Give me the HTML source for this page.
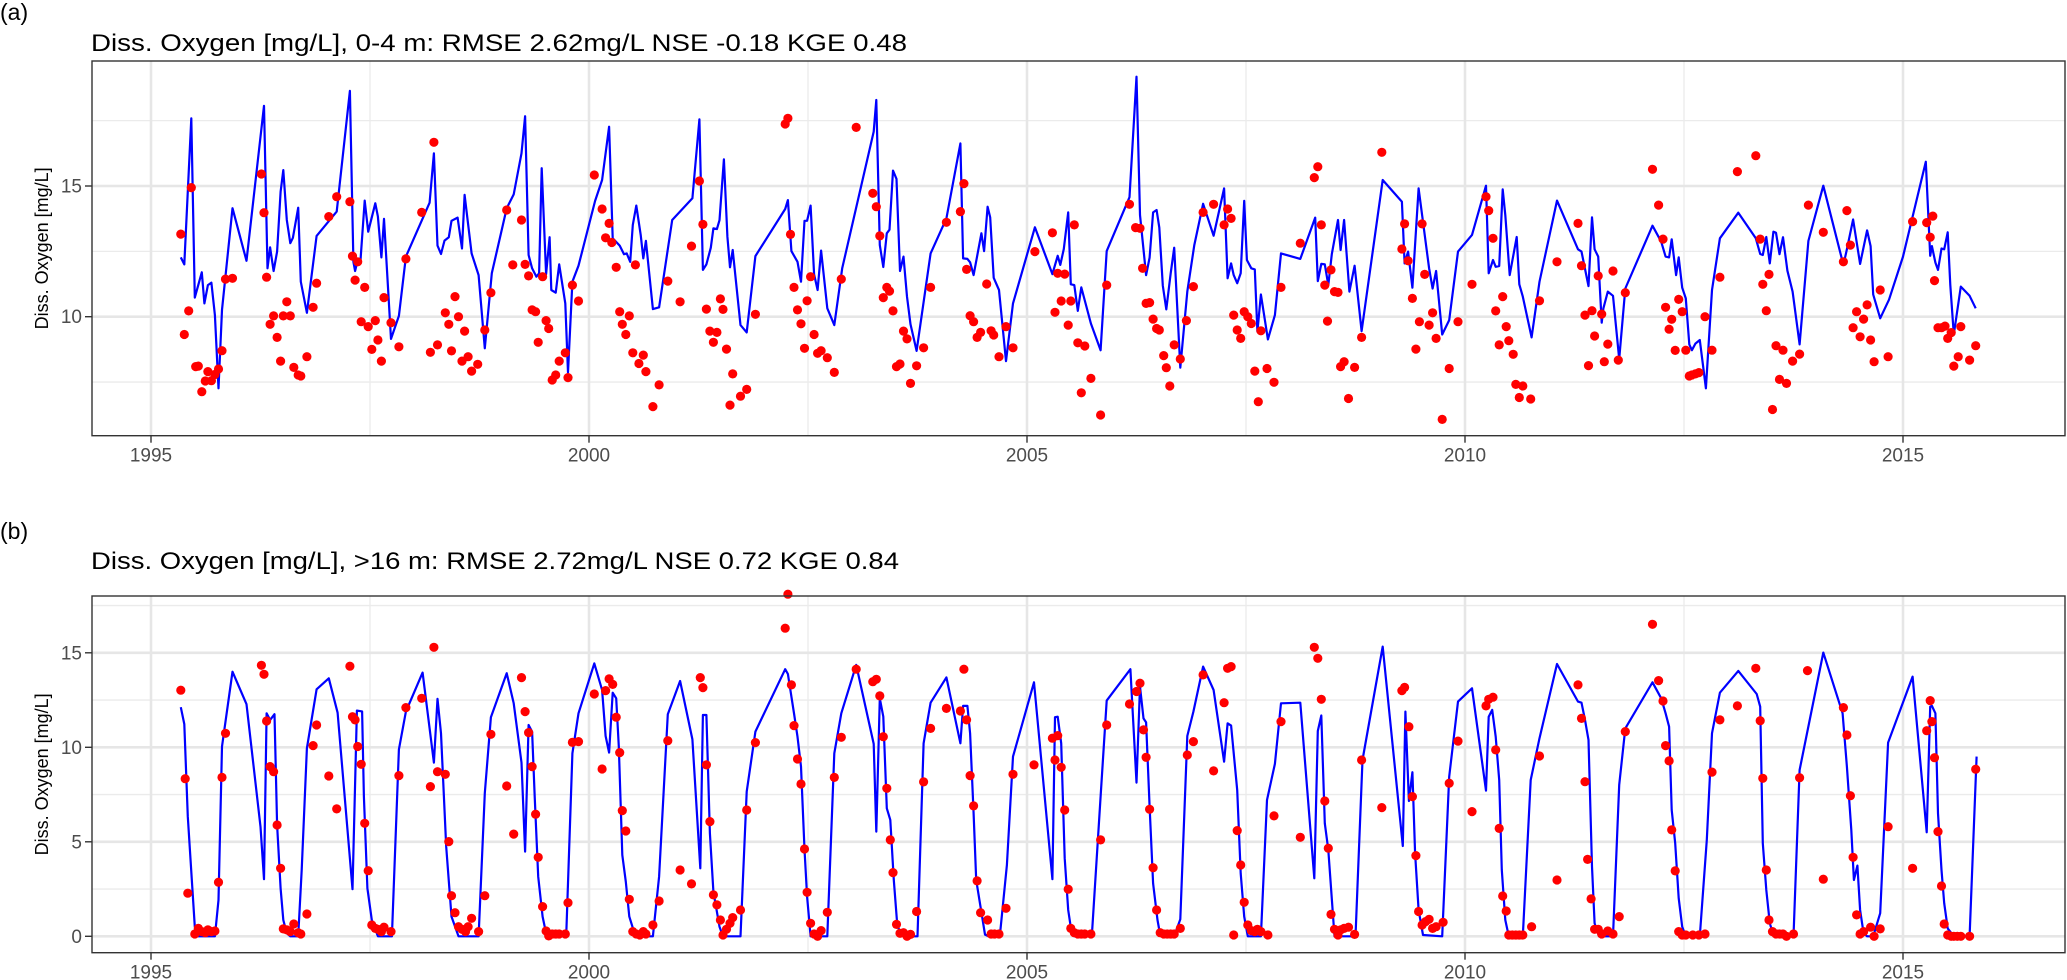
<!DOCTYPE html>
<html><head><meta charset="utf-8"><style>
html,body{margin:0;padding:0;background:#fff;}
svg{display:block;font-family:"Liberation Sans",Arial,sans-serif;}
</style></head><body>
<svg id="chart" width="2067" height="980" viewBox="0 0 2067 980" xmlns="http://www.w3.org/2000/svg">
<rect x="0" y="0" width="2067" height="980" fill="#fff"/>
<text x="0" y="20" font-size="23" fill="#000">(a)</text>
<text x="91" y="51" font-size="24" fill="#000" textLength="816" lengthAdjust="spacingAndGlyphs">Diss. Oxygen [mg/L], 0-4 m: RMSE 2.62mg/L NSE -0.18 KGE 0.48</text>
<text x="0" y="539" font-size="23" fill="#000">(b)</text>
<text x="91" y="569" font-size="24" fill="#000" textLength="808" lengthAdjust="spacingAndGlyphs">Diss. Oxygen [mg/L], &gt;16 m: RMSE 2.72mg/L NSE 0.72 KGE 0.84</text>
<g id="panelA"></g>
<g id="panelB"></g>
</svg>
<script>
// ---------- Panel (a) data: surface 0-4 m ----------
const aLineYr=[1995.34,1995.38,1995.46,1995.50,1995.58,1995.61,1995.65,1995.69,1995.73,1995.77,1995.81,1995.93,1996.09,1996.29,1996.33,1996.36,1996.40,1996.44,1996.48,1996.51,1996.55,1996.59,1996.62,1996.68,1996.71,1996.78,1996.89,1997.12,1997.27,1997.31,1997.33,1997.36,1997.39,1997.44,1997.48,1997.56,1997.59,1997.63,1997.66,1997.74,1997.83,1997.91,1998.18,1998.23,1998.27,1998.31,1998.35,1998.40,1998.43,1998.50,1998.55,1998.58,1998.66,1998.74,1998.81,1998.89,1999.06,1999.14,1999.23,1999.27,1999.31,1999.35,1999.40,1999.43,1999.46,1999.51,1999.55,1999.57,1999.62,1999.66,1999.73,1999.76,1999.81,1999.88,2000.07,2000.15,2000.23,2000.27,2000.35,2000.40,2000.43,2000.47,2000.50,2000.54,2000.59,2000.62,2000.65,2000.73,2000.80,2000.95,2001.18,2001.26,2001.30,2001.34,2001.39,2001.42,2001.46,2001.49,2001.54,2001.58,2001.61,2001.64,2001.73,2001.80,2001.90,
2002.24,2002.27,2002.31,2002.38,2002.42,2002.46,2002.49,2002.53,2002.57,2002.61,2002.65,2002.72,2002.80,2002.89,2003.25,2003.28,2003.32,2003.36,2003.40,2003.43,2003.47,2003.51,2003.55,2003.59,2003.63,2003.67,2003.74,2003.90,2004.08,2004.24,2004.27,2004.32,2004.35,2004.39,2004.48,2004.51,2004.55,2004.58,2004.62,2004.68,2004.76,2004.84,2005.09,2005.29,2005.35,2005.38,2005.42,2005.47,2005.50,2005.54,2005.58,2005.62,2005.73,2005.84,2005.91,2006.17,2006.25,2006.29,2006.36,2006.40,2006.44,2006.48,2006.51,2006.55,2006.59,2006.64,2006.68,2006.75,2006.83,2006.91,2007.01,2007.13,2007.25,2007.29,2007.33,2007.36,2007.40,2007.44,2007.48,2007.51,2007.56,2007.60,2007.63,2007.67,2007.75,2007.83,2007.90,2008.12,2008.29,2008.32,2008.36,2008.40,2008.44,2008.48,2008.55,2008.58,2008.62,2008.68,2008.74,2008.82,2009.06,2009.28,2009.31,2009.35,2009.40,2009.47,2009.51,2009.59,2009.63,2009.67,
2009.74,2009.82,2009.92,2010.08,2010.24,2010.27,2010.32,2010.35,2010.39,2010.43,2010.46,2010.51,2010.59,2010.62,2010.66,2010.76,2010.85,2011.05,2011.29,2011.33,2011.41,2011.45,2011.48,2011.52,2011.56,2011.58,2011.63,2011.69,2011.76,2011.83,2012.14,2012.24,2012.29,2012.33,2012.36,2012.41,2012.44,2012.48,2012.52,2012.56,2012.59,2012.63,2012.68,2012.75,2012.82,2012.91,2013.12,2013.32,2013.37,2013.40,2013.44,2013.48,2013.52,2013.55,2013.59,2013.63,2013.68,2013.74,2013.82,2013.92,2014.09,2014.32,2014.36,2014.43,2014.51,2014.59,2014.63,2014.66,2014.74,2014.84,2015.00,2015.26,2015.31,2015.33,2015.37,2015.40,2015.44,2015.47,2015.51,2015.54,2015.58,2015.63,2015.66,2015.76,2015.83];
const aLineVal=[12.27,12.0,17.59,10.73,11.7,10.51,11.21,11.3,10.06,7.26,10.26,14.15,12.14,18.07,11.85,12.65,11.75,12.49,14.78,15.61,13.70,12.81,13.02,14.17,11.34,10.15,13.09,14.02,18.64,12.1,11.75,12.17,12.1,14.44,13.25,14.34,13.83,12.27,13.74,9.15,10.03,12.3,14.36,16.25,12.72,12.4,12.91,13.04,13.67,13.79,12.61,14.66,12.42,11.59,8.79,11.66,14.15,14.68,16.25,17.67,12.36,11.85,11.53,11.66,15.68,11.63,13.04,11.02,10.92,12.0,10.51,7.87,11.34,11.95,14.43,15.23,17.27,13.0,12.72,12.39,12.42,12.1,13.51,14.25,13.13,12.23,12.9,10.29,10.36,13.70,14.53,17.55,11.79,12.0,12.64,13.38,13.35,13.69,16.02,13.06,11.89,12.55,9.68,9.4,12.32,
14.12,14.46,12.51,12.1,11.34,13.67,13.67,14.25,11.62,11.02,12.53,10.32,9.68,11.85,17.08,18.29,12.74,11.9,13.19,13.33,15.59,15.27,11.75,12.3,10.77,9.71,8.69,12.42,13.76,16.63,12.23,12.21,12.08,11.59,13.19,12.51,14.21,13.8,11.49,11.02,8.3,10.51,13.42,11.63,12.33,11.98,12.59,13.99,11.24,11.21,10.22,11.12,9.74,8.72,12.51,14.57,19.18,13.89,11.59,12.26,13.99,14.08,13.41,11.19,10.28,11.66,12.64,8.05,10.96,12.74,14.32,13.1,14.91,11.47,12.04,11.59,11.28,11.66,14.43,12.17,11.85,11.81,9.43,10.85,9.13,10.06,12.42,12.21,13.79,11.36,12.02,12.0,11.21,12.39,13.7,12.55,13.7,10.96,11.95,9.45,15.23,14.4,12.04,12.49,11.11,14.91,13.89,11.85,11.08,11.75,
9.32,9.87,12.49,13.13,15.01,11.66,12.17,11.91,11.94,14.87,13.89,11.59,13.05,11.24,10.77,9.21,11.34,14.44,12.58,12.49,11.17,13.8,12.58,12.3,9.77,10.32,10.96,10.8,8.38,11.08,13.48,12.87,12.3,12.27,12.96,11.59,12.27,11.11,10.7,8.94,8.72,8.97,9.11,7.26,11.02,13.0,13.98,13.0,12.4,12.36,13.05,12.04,13.25,13.21,12.39,13.04,11.76,10.96,8.94,12.9,15.01,11.98,12.58,13.72,12.02,13.3,12.7,10.85,9.94,10.65,12.3,15.93,12.33,12.7,12.07,11.79,12.61,12.58,13.23,11.21,9.32,10.47,11.15,10.8,10.32];
const aObsYr=[1995.34,1995.38,1995.43,1995.46,1995.51,1995.54,1995.58,1995.62,1995.65,1995.69,1995.73,1995.77,1995.81,1995.85,1995.93,1996.26,1996.29,1996.32,1996.36,1996.40,1996.44,1996.48,1996.51,1996.55,1996.59,1996.63,1996.68,1996.71,1996.78,1996.85,1996.89,1997.03,1997.12,1997.27,1997.30,1997.33,1997.36,1997.40,1997.44,1997.48,1997.52,1997.56,1997.59,1997.63,1997.66,1997.74,1997.83,1997.91,1998.09,1998.19,1998.23,1998.27,1998.36,1998.40,1998.43,1998.47,1998.51,1998.55,1998.58,1998.62,1998.66,1998.73,1998.81,1998.88,1999.06,1999.13,1999.23,1999.27,1999.31,1999.35,1999.39,1999.42,1999.47,1999.51,1999.54,1999.58,1999.62,1999.66,1999.73,1999.76,1999.81,1999.88,2000.06,2000.15,2000.19,2000.23,2000.26,2000.31,2000.35,2000.38,2000.42,2000.46,2000.50,2000.53,2000.57,2000.62,2000.65,2000.73,2000.80,2000.90,2001.04,2001.17,2001.26,2001.30,2001.34,2001.38,2001.42,2001.46,2001.50,2001.53,2001.57,2001.61,2001.64,2001.73,2001.80,2001.90,
2002.24,2002.27,2002.30,2002.34,2002.38,2002.42,2002.46,2002.49,2002.53,2002.57,2002.61,2002.65,2002.72,2002.80,2002.88,2003.05,2003.24,2003.28,2003.32,2003.36,2003.40,2003.43,2003.47,2003.51,2003.55,2003.59,2003.63,2003.67,2003.74,2003.82,2003.90,2004.08,2004.24,2004.28,2004.31,2004.35,2004.39,2004.43,2004.47,2004.54,2004.59,2004.62,2004.68,2004.76,2004.84,2005.09,2005.29,2005.32,2005.35,2005.39,2005.43,2005.47,2005.50,2005.54,2005.58,2005.66,2005.62,2005.73,2005.84,2005.91,2006.17,2006.24,2006.29,2006.32,2006.36,2006.40,2006.44,2006.48,2006.51,2006.56,2006.59,2006.63,2006.68,2006.75,2006.82,2006.90,2007.01,2007.13,2007.25,2007.29,2007.33,2007.36,2007.40,2007.44,2007.48,2007.52,2007.56,2007.60,2007.64,2007.67,2007.74,2007.82,2007.90,2008.12,2008.28,2008.32,2008.36,2008.40,2008.43,2008.47,2008.51,2008.55,2008.58,2008.62,2008.67,2008.74,2008.82,2009.05,2009.28,2009.31,2009.35,2009.40,2009.44,2009.48,2009.51,2009.54,2009.59,2009.63,2009.67,
2009.74,2009.82,2009.92,2010.08,2010.24,2010.27,2010.32,2010.35,2010.39,2010.43,2010.47,2010.50,2010.55,2010.58,2010.62,2010.66,2010.75,2010.85,2011.05,2011.29,2011.33,2011.37,2011.41,2011.45,2011.48,2011.52,2011.56,2011.59,2011.63,2011.69,2011.75,2011.83,2012.14,2012.21,2012.26,2012.29,2012.33,2012.36,2012.40,2012.44,2012.48,2012.52,2012.56,2012.59,2012.63,2012.67,2012.74,2012.82,2012.91,2013.11,2013.32,2013.37,2013.40,2013.44,2013.47,2013.51,2013.55,2013.59,2013.63,2013.67,2013.74,2013.82,2013.92,2014.09,2014.32,2014.36,2014.40,2014.43,2014.47,2014.51,2014.55,2014.59,2014.63,2014.67,2014.74,2014.83,2015.11,2015.27,2015.31,2015.34,2015.36,2015.40,2015.44,2015.48,2015.51,2015.55,2015.58,2015.63,2015.66,2015.76,2015.83];
const aObsVal=[13.16,9.32,10.22,14.94,8.09,8.11,7.13,7.54,7.9,7.55,7.79,8.0,8.7,11.44,11.47,15.46,13.98,11.51,9.71,10.03,9.21,8.3,10.03,10.57,10.03,8.06,7.77,7.73,8.47,10.36,11.28,13.83,14.59,14.4,12.32,11.4,12.1,9.81,11.12,9.62,8.75,9.85,9.11,8.3,10.73,9.77,8.85,12.21,13.99,8.64,16.67,8.92,10.15,9.71,8.69,10.77,10.0,8.3,9.45,8.47,7.92,8.18,9.49,10.92,14.08,11.98,13.7,12.0,11.56,10.26,10.19,9.02,11.53,9.85,9.55,7.58,7.77,8.3,8.62,7.67,11.21,10.6,15.42,14.12,13.02,13.57,12.84,11.89,10.19,9.71,9.32,10.03,8.62,11.98,8.21,8.53,7.9,6.56,7.39,11.36,10.57,12.7,15.19,13.53,10.29,9.45,9.02,9.4,10.68,10.28,8.76,6.62,7.81,6.96,7.22,10.09,
17.37,17.59,13.15,11.12,10.26,9.73,8.79,10.61,11.53,9.32,8.6,8.7,8.43,7.87,11.44,17.24,14.72,14.21,13.09,10.73,11.12,10.98,10.22,8.09,8.19,9.45,9.15,7.45,8.12,8.81,11.12,13.61,14.02,15.09,11.81,10.04,9.81,9.21,9.4,11.25,9.46,9.3,8.47,9.62,8.81,12.49,13.21,10.17,11.66,10.6,11.63,9.68,10.6,13.51,9.0,8.88,7.09,7.64,6.24,11.21,14.3,13.41,13.38,11.85,10.51,10.54,9.91,9.55,9.49,8.51,8.05,7.35,8.92,8.38,9.85,11.15,13.99,14.3,13.51,14.12,13.76,10.06,9.49,9.17,10.19,10.0,9.74,7.92,6.75,9.46,8.02,7.49,11.12,12.81,15.32,15.74,13.51,11.21,9.83,11.79,10.96,10.93,8.09,8.28,6.87,8.06,9.21,16.29,12.59,13.55,12.14,10.7,8.76,9.81,13.55,11.62,9.68,10.15,9.17,
6.07,8.02,9.81,11.24,14.59,14.06,13.0,10.22,8.92,10.77,9.62,9.08,8.56,7.41,6.91,7.35,6.85,10.61,12.1,13.57,11.95,10.06,8.13,10.23,9.26,11.56,10.1,8.28,8.95,11.75,8.34,10.92,15.64,14.27,12.97,10.36,9.52,9.9,8.71,10.66,10.19,8.72,7.73,7.77,7.81,7.86,10.0,8.72,11.51,15.55,16.16,12.97,11.24,10.23,11.62,6.45,8.89,7.6,8.72,7.45,8.3,8.57,14.27,13.23,12.1,14.06,12.74,9.58,10.19,9.23,9.91,10.45,9.11,8.28,11.02,8.47,13.64,13.6,13.04,13.85,11.38,9.58,9.58,9.64,9.17,9.39,8.11,8.47,9.62,8.34,8.89];

// ---------- Panel (b) data: bottom >16 m ----------
const bLineYr=[1995.34,1995.38,1995.42,1995.50,1995.54,1995.73,1995.77,1995.81,1995.93,1996.09,1996.25,1996.29,1996.32,1996.36,1996.41,1996.44,1996.48,1996.51,1996.55,1996.59,1996.68,1996.72,1996.78,1996.89,1997.03,1997.13,1997.30,1997.35,1997.41,1997.43,1997.47,1997.52,1997.59,1997.75,1997.83,1997.91,1998.10,1998.23,1998.27,1998.31,1998.37,1998.43,1998.51,1998.74,1998.81,1998.88,1999.06,1999.14,1999.23,1999.27,1999.31,1999.35,1999.38,1999.42,1999.47,1999.51,1999.55,1999.74,1999.81,1999.88,2000.06,2000.15,2000.19,2000.23,2000.27,2000.31,2000.34,2000.38,2000.42,2000.46,2000.53,2000.73,2000.80,2000.90,2001.04,2001.18,2001.27,2001.30,2001.34,2001.38,2001.42,2001.49,2001.53,2001.73,2001.80,2001.90,
2002.24,2002.27,2002.34,2002.38,2002.42,2002.46,2002.49,2002.53,2002.72,2002.80,2002.88,2003.05,2003.25,2003.28,2003.32,2003.36,2003.40,2003.44,2003.48,2003.52,2003.59,2003.75,2003.82,2003.90,2004.08,2004.24,2004.27,2004.32,2004.35,2004.39,2004.42,2004.52,2004.56,2004.69,2004.77,2004.84,2005.08,2005.29,2005.32,2005.35,2005.39,2005.43,2005.47,2005.51,2005.54,2005.74,2005.84,2005.91,2006.18,2006.25,2006.29,2006.33,2006.36,2006.40,2006.44,2006.49,2006.52,2006.56,2006.68,2006.75,2006.83,2006.90,2007.01,2007.13,2007.25,2007.29,2007.33,2007.40,2007.44,2007.48,2007.52,2007.67,2007.74,2007.83,2007.90,2008.12,2008.28,2008.32,2008.36,2008.40,2008.44,2008.51,2008.75,2008.83,2009.06,2009.29,2009.32,2009.36,2009.40,2009.43,2009.47,2009.52,
2009.74,2009.82,2009.92,2010.08,2010.24,2010.27,2010.31,2010.35,2010.39,2010.42,2010.46,2010.50,2010.66,2010.75,2010.85,2011.05,2011.29,2011.33,2011.37,2011.41,2011.45,2011.48,2011.53,2011.69,2011.76,2011.83,2012.14,2012.24,2012.29,2012.33,2012.36,2012.40,2012.44,2012.48,2012.52,2012.68,2012.76,2012.82,2012.91,2013.12,2013.33,2013.37,2013.40,2013.44,2013.48,2013.52,2013.55,2013.75,2013.82,2014.09,2014.31,2014.36,2014.41,2014.44,2014.48,2014.51,2014.55,2014.59,2014.66,2014.74,2014.83,2015.11,2015.27,2015.31,2015.33,2015.37,2015.40,2015.44,2015.47,2015.51,2015.58,2015.76,2015.84];
const bLineVal=[12.12,11.23,6.33,0.51,0,0,1.92,10.04,14.0,12.28,5.8,3.02,11.8,11.45,11.75,5.89,2.54,0.86,0.16,0,0,3.51,9.95,13.07,13.65,11.83,2.49,11.94,11.9,7.39,2.54,0.86,0,0,9.89,11.89,13.95,9.19,12.56,10.74,4.74,1.04,0,0,7.57,11.59,13.92,12.33,9.19,4.48,11.18,10.83,7.39,3.16,1.04,0.16,0,0,9.68,11.8,14.44,13.03,10.6,9.72,12.89,12.59,10.04,4.3,2.89,1.04,0,0,3.16,11.75,13.51,10.42,3.6,11.71,11.71,5.45,2.36,0.51,0,0,7.65,10.83,
14.13,13.88,11.8,10.56,8.98,4.6,2.1,0,0,9.68,11.8,14.36,10.18,5.54,12.59,11.62,6.77,6.16,2.98,0.51,0,0,10.21,12.36,13.7,10.21,12.19,12.19,10.74,6.51,2.98,0.09,0,0,3.77,9.51,13.44,3.02,11.59,11.62,10.21,4.13,1.39,0.16,0,0,7.39,12.47,14.13,8.13,13.21,11.53,11.32,6.86,2.8,0.86,0.07,0,0,0.9,10.6,11.89,14.27,13.03,9.24,11.27,11.15,7.74,3.33,1.04,0,0,7.21,9.12,12.33,12.36,3.07,10.86,11.68,5.98,4.57,0,0,9.33,15.33,4.78,11.89,7.16,8.68,4.39,1.39,0.07,
0,8.45,12.42,13.12,7.71,11.62,11.98,10.56,8.27,3.51,0.86,0,0,8.27,10.48,14.41,12.42,12.36,11.45,10.39,3.69,0.69,0,0,8.01,11.0,13.44,12.59,11.8,11.09,6.68,4.92,2.01,0.51,0,0,5.1,10.74,12.89,14.04,12.82,12.15,4.92,2.45,0.69,0.07,0,0,8.8,15.01,11.8,8.98,5.63,2.98,3.74,1.39,0.16,0,0,1.22,10.25,13.74,5.5,12.15,12.19,11.8,6.51,3.51,1.75,0.42,0,0,9.51];
const bObsYr=[1995.34,1995.39,1995.42,1995.50,1995.54,1995.58,1995.62,1995.65,1995.69,1995.73,1995.77,1995.81,1995.85,1996.26,1996.29,1996.32,1996.36,1996.40,1996.44,1996.48,1996.51,1996.55,1996.59,1996.63,1996.68,1996.71,1996.78,1996.85,1996.89,1997.03,1997.12,1997.27,1997.30,1997.33,1997.36,1997.40,1997.44,1997.48,1997.52,1997.56,1997.59,1997.63,1997.66,1997.74,1997.83,1997.91,1998.09,1998.19,1998.23,1998.27,1998.36,1998.40,1998.43,1998.47,1998.51,1998.55,1998.59,1998.62,1998.66,1998.74,1998.81,1998.88,1999.06,1999.14,1999.23,1999.27,1999.31,1999.35,1999.39,1999.42,1999.47,1999.51,1999.54,1999.58,1999.62,1999.66,1999.73,1999.76,1999.81,1999.88,2000.06,2000.15,2000.19,2000.23,2000.27,2000.31,2000.35,2000.38,2000.42,2000.46,2000.50,2000.54,2000.58,2000.62,2000.65,2000.73,2000.80,2000.90,2001.04,2001.17,2001.27,2001.30,2001.34,2001.38,2001.42,2001.46,2001.50,2001.53,2001.57,2001.61,2001.64,2001.73,2001.80,2001.90,
2002.24,2002.27,2002.31,2002.34,2002.38,2002.42,2002.46,2002.49,2002.53,2002.57,2002.61,2002.65,2002.72,2002.80,2002.88,2003.05,2003.24,2003.28,2003.32,2003.36,2003.40,2003.44,2003.47,2003.51,2003.55,2003.59,2003.63,2003.67,2003.74,2003.82,2003.90,2004.08,2004.24,2004.28,2004.31,2004.35,2004.39,2004.43,2004.47,2004.55,2004.59,2004.63,2004.68,2004.76,2004.84,2005.08,2005.29,2005.32,2005.35,2005.39,2005.43,2005.47,2005.50,2005.54,2005.58,2005.62,2005.66,2005.73,2005.84,2005.91,2006.17,2006.25,2006.29,2006.33,2006.36,2006.40,2006.44,2006.48,2006.52,2006.56,2006.60,2006.64,2006.68,2006.75,2006.83,2006.90,2007.01,2007.13,2007.25,2007.29,2007.33,2007.36,2007.40,2007.44,2007.48,2007.52,2007.56,2007.60,2007.63,2007.67,2007.75,2007.82,2007.90,2008.12,2008.28,2008.32,2008.36,2008.40,2008.44,2008.47,2008.51,2008.55,2008.58,2008.62,2008.67,2008.74,2008.82,2009.05,2009.28,2009.31,2009.36,2009.40,2009.44,2009.47,2009.51,2009.55,2009.59,2009.63,2009.67,
2009.75,2009.82,2009.92,2010.08,2010.24,2010.27,2010.32,2010.35,2010.39,2010.43,2010.47,2010.50,2010.54,2010.58,2010.62,2010.66,2010.76,2010.85,2011.05,2011.29,2011.33,2011.37,2011.40,2011.44,2011.48,2011.52,2011.56,2011.63,2011.69,2011.76,2011.83,2012.14,2012.21,2012.26,2012.29,2012.33,2012.36,2012.40,2012.44,2012.48,2012.52,2012.60,2012.67,2012.74,2012.82,2012.91,2013.11,2013.32,2013.37,2013.40,2013.44,2013.47,2013.51,2013.55,2013.59,2013.63,2013.67,2013.75,2013.82,2013.91,2014.09,2014.32,2014.36,2014.40,2014.43,2014.47,2014.51,2014.55,2014.63,2014.67,2014.74,2014.83,2015.11,2015.27,2015.31,2015.33,2015.36,2015.40,2015.44,2015.47,2015.51,2015.55,2015.58,2015.62,2015.66,2015.76,2015.83];
const bObsVal=[13.02,8.34,2.28,0.12,0.42,0.25,0.19,0.34,0.25,0.28,2.86,8.41,10.74,14.34,13.86,11.39,8.98,8.71,5.89,3.6,0.39,0.34,0.25,0.65,0.19,0.12,1.18,10.09,11.18,8.48,6.74,14.29,11.62,11.45,10.04,9.1,5.98,3.47,0.6,0.42,0.37,0.25,0.48,0.25,8.5,12.1,12.59,7.92,15.29,8.71,8.57,5.01,2.15,1.25,0.51,0.37,0.25,0.51,0.95,0.25,2.15,10.69,7.95,5.41,13.69,11.89,10.78,8.98,6.46,4.18,1.57,0.28,0.02,0.12,0.12,0.12,0.12,1.78,10.26,10.3,12.82,8.85,13.0,13.62,13.33,11.59,9.72,6.65,5.57,1.96,0.25,0.12,0.07,0.25,0.12,0.6,1.87,10.35,3.51,2.77,13.69,13.16,9.07,6.07,2.19,1.66,0.86,0.07,0.37,0.69,0.99,1.39,6.68,10.25,
16.3,18.1,13.3,11.15,9.38,8.06,4.62,2.33,0.69,0.12,0.0,0.3,1.27,8.41,10.53,14.13,13.47,13.6,12.72,10.56,7.83,5.1,3.37,0.63,0.16,0.19,0.0,0.1,1.31,8.17,11.0,12.06,11.92,14.13,11.45,8.5,6.9,2.93,1.25,0.86,0.12,0.12,0.12,1.48,8.57,9.07,10.48,9.33,10.62,8.94,6.68,2.49,0.42,0.19,0.12,0.12,0.12,0.12,5.1,11.18,12.29,12.95,13.39,10.92,9.47,6.72,3.63,1.39,0.19,0.12,0.12,0.12,0.12,0.42,9.59,10.3,13.83,8.75,12.36,14.18,14.27,0.07,5.59,3.77,1.8,0.6,0.3,0.25,0.37,0.25,0.07,6.37,11.36,5.24,15.29,14.71,12.54,7.16,4.66,1.16,0.37,0.07,0.34,0.42,0.48,0.1,9.33,6.81,13.0,13.17,11.09,7.39,4.27,1.31,0.6,0.78,0.9,0.42,0.51,
0.74,8.1,10.33,6.6,12.19,12.54,12.65,9.86,5.71,2.13,1.34,0.07,0.07,0.07,0.07,0.07,0.51,9.54,2.98,13.3,11.53,8.18,4.07,1.98,0.37,0.37,0.12,0.28,0.12,1.04,10.83,16.51,13.53,12.45,10.09,9.28,5.63,3.46,0.25,0.07,0.07,0.07,0.07,0.12,8.69,11.45,12.19,14.18,11.41,8.36,3.51,0.86,0.25,0.12,0.12,0.12,0.0,0.12,8.39,14.06,3.02,12.1,10.65,7.44,4.18,1.13,0.12,0.25,0.48,0.0,0.39,5.8,3.6,10.88,12.47,11.36,9.45,5.54,2.66,0.65,0.07,0.0,0.0,0.0,0.0,0.0,8.84];

const xTicks=[1995,2000,2005,2010,2015];
const xMinor=[1997.5,2002.5,2007.5,2012.5];
const aYTicks=[10,15];
const aYMinor=[7.5,12.5,17.5];
const bYTicks=[0,5,10,15];
const bYMinor=[2.5,7.5,12.5,17.5];

const NS='http://www.w3.org/2000/svg';
const X0=92, X1=2065;
function xScale(yr){return 151+(yr-1995)*87.6;}
function mk(tag,attrs,parent){const e=document.createElementNS(NS,tag);for(const k in attrs)e.setAttribute(k,attrs[k]);parent.appendChild(e);return e;}

function drawPanel(g,id,top,bottom,yScale,yTicks,yMinor,lineYr,lineVal,obsYr,obsVal){
  const grid=mk('g',{},g);
  
  
  yMinor.forEach(v=>{const y=yScale(v);if(y>top&&y<bottom)mk('line',{x1:X0,x2:X1,y1:y,y2:y,stroke:'#ebebeb','stroke-width':1.3},grid);});
  xMinor.forEach(v=>{const x=xScale(v);mk('line',{x1:x,x2:x,y1:top,y2:bottom,stroke:'#ebebeb','stroke-width':1.3},grid);});
  yTicks.forEach(v=>{const y=yScale(v);mk('line',{x1:X0,x2:X1,y1:y,y2:y,stroke:'#e6e6e6','stroke-width':2.6},grid);});
  xTicks.forEach(v=>{const x=xScale(v);mk('line',{x1:x,x2:x,y1:top,y2:bottom,stroke:'#e6e6e6','stroke-width':2.6},grid);});
  // line
  let d='';
  for(let i=0;i<lineYr.length;i++){d+=(i?'L':'M')+xScale(lineYr[i]).toFixed(1)+','+yScale(lineVal[i]).toFixed(1);}
  const p=mk('path',{d:d,fill:'none',stroke:'#0000ff','stroke-width':2.2,'stroke-linejoin':'round'},g);
  
  
  const pts=mk('g',{fill:'#ff0000'},g);
  
  
  for(let i=0;i<obsYr.length;i++){
    const c=mk('circle',{cx:xScale(obsYr[i]).toFixed(1),cy:yScale(obsVal[i]).toFixed(1),r:4.6},pts);
    
    
  }
  // border
  const b=mk('rect',{x:X0,y:top,width:X1-X0,height:bottom-top,fill:'none',stroke:'#333333','stroke-width':1.4},g);
  
  
  // y ticks
  yTicks.forEach(v=>{const y=yScale(v);
    mk('line',{x1:X0-7,x2:X0,y1:y,y2:y,stroke:'#333','stroke-width':1.4},g);
    const t=mk('text',{x:X0-10,y:y+6.5,'text-anchor':'end','font-size':19,fill:'#4d4d4d'},g);
    t.textContent=v;
    
    
  });
  xTicks.forEach(v=>{const x=xScale(v);
    mk('line',{x1:x,x2:x,y1:bottom,y2:bottom+7,stroke:'#333','stroke-width':1.4},g);
    const t=mk('text',{x:x,y:bottom+26,'text-anchor':'middle','font-size':19,fill:'#4d4d4d'},g);
    t.textContent=v;
    
    
  });
  const cy=(top+bottom)/2;
  const yt=mk('text',{x:0,y:0,'text-anchor':'middle','font-size':18,fill:'#000',transform:'translate(48,'+cy+') rotate(-90)'},g);
  yt.textContent='Diss. Oxygen [mg/L]';
  
  
}

const aTop=61,aBot=435.7;
function yA(v){return 316.7-(v-10)*26.14;}
drawPanel(document.getElementById('panelA'),'panel-a',aTop,aBot,yA,aYTicks,aYMinor,aLineYr,aLineVal,aObsYr,aObsVal);
const bTop=596,bBot=952.7;
function yB(v){return 936.3-v*18.9;}
drawPanel(document.getElementById('panelB'),'panel-b',bTop,bBot,yB,bYTicks,bYMinor,bLineYr,bLineVal,bObsYr,bObsVal);
</script>
</body></html>
